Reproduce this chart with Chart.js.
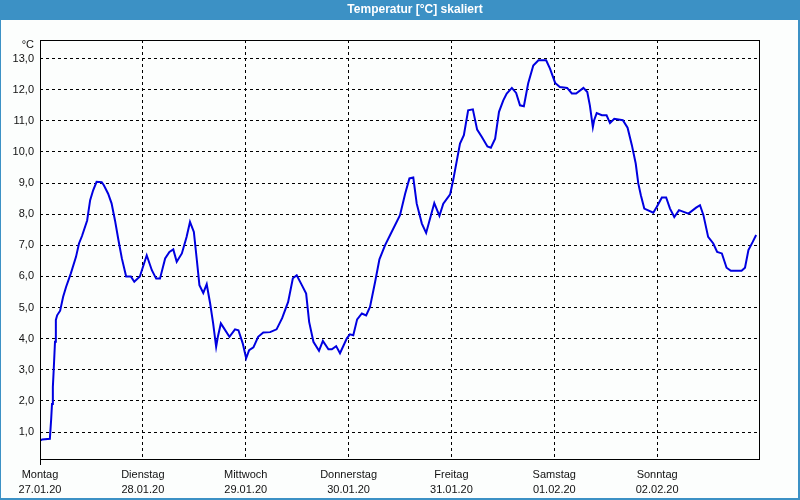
<!DOCTYPE html>
<html>
<head>
<meta charset="utf-8">
<script src="https://cdn.jsdelivr.net/npm/chart.js@4.4.1/dist/chart.umd.min.js"></script>
<style>
  html, body { margin: 0; padding: 0; background: #fcfefd; }
  #wrap { width: 800px; height: 500px; position: relative; }
</style>
</head>
<body>
<div id="wrap"><canvas id="tempChart" width="800" height="500"></canvas></div>
<script>
// Stunden seit Montag 00:00 und gemessene Temperatur
var hours = [0, 0.5, 2.3, 2.6, 2.8, 3.0, 3.2, 3.5, 3.7, 4.0, 4.7, 5.4, 6.1, 7.2, 8.4, 9.1, 9.8, 11.0,
  11.7, 12.4, 13.2, 14.4, 14.9, 15.9, 16.7, 17.5, 18.3, 19.1, 20.1, 21.2, 22.0, 23.3, 24.9, 26.1,
  27.1, 28.0, 29.2, 30.2, 31.1, 31.9, 33.1, 34.2, 35.0, 35.9, 36.6, 37.2, 38.1, 38.9, 39.7, 40.4,
  41.1, 41.5, 42.2, 44.2, 45.5, 46.3, 47.3, 48.1, 48.8, 49.8, 50.9, 52.1, 53.7, 55.2, 56.5, 57.9,
  59.0, 59.9, 61.1, 62.1, 62.8, 63.8, 65.1, 66.0, 67.3, 68.1, 69.1, 70.0, 71.6, 72.3, 73.1, 74.0,
  75.1, 76.1, 77.0, 78.2, 79.2, 80.5, 81.7, 84.0, 85.2, 86.2, 87.1, 87.9, 89.1, 90.1, 92.0, 93.2,
  94.1, 95.7, 96.4, 98.0, 98.9, 99.9, 101.0, 102.0, 103.1, 104.4, 105.2, 106.2, 107.1, 108.1,
  108.9, 110.1, 111.1, 112.0, 112.9, 113.9, 115.1, 116.3, 118.1, 119.0, 120.2, 121.3, 123.0,
  124.1, 125.1, 126.8, 127.7, 128.3, 129.0, 129.3, 129.9, 131.1, 132.2, 133.0, 134.0, 136.0,
  137.1, 138.1, 139.0, 139.6, 140.2, 141.0, 143.1, 143.9, 145.1, 146.1, 147.0, 148.0, 149.1,
  151.3, 153.1, 154.0, 154.8, 155.9, 157.1, 158.0, 159.1, 160.2, 161.2, 163.7, 164.5, 165.3,
  166.3, 167.1];
var temps = [0.72, 0.76, 0.78, 1.4, 1.9, 2.45, 3.0, 3.9, 4.6, 4.75, 4.9, 5.35, 5.67, 6.1, 6.63, 7.06, 7.3, 7.8,
  8.45, 8.77, 9.04, 9.03, 8.93, 8.66, 8.35, 7.8, 7.17, 6.58, 6.0, 6.0, 5.83, 6.0, 6.68, 6.2,
  5.93, 5.93, 6.58, 6.79, 6.87, 6.47, 6.74, 7.27, 7.75, 7.43, 6.52, 5.72, 5.47, 5.75, 5.13, 4.49,
  3.74, 4.06, 4.49, 4.06, 4.30, 4.27, 3.85, 3.37, 3.63, 3.72, 4.06, 4.20, 4.21, 4.30, 4.66, 5.18,
  5.94, 6.04, 5.72, 5.45, 4.54, 3.90, 3.61, 3.93, 3.66, 3.66, 3.76, 3.53, 4.01, 4.14, 4.11, 4.62,
  4.81, 4.75, 5.02, 5.83, 6.55, 7.0, 7.33, 7.97, 8.66, 9.15, 9.18, 8.34, 7.7, 7.4, 8.36, 7.95,
  8.34, 8.64, 9.09, 10.27, 10.54, 11.34, 11.37, 10.72, 10.48, 10.18, 10.14, 10.43, 11.29, 11.66,
  11.88, 12.06, 11.90, 11.50, 11.47, 12.2, 12.78, 12.95, 12.95, 12.68, 12.22, 12.09, 12.06,
  11.88, 11.88, 12.06, 11.93, 11.50, 10.8, 11.02, 11.25, 11.18, 11.18, 10.93, 11.07, 11.02,
  10.78, 10.22, 9.63, 8.99, 8.61, 8.18, 8.05, 8.23, 8.54, 8.54, 8.18, 7.91, 8.13,
  8.02, 8.21, 8.29, 7.97, 7.27, 7.06, 6.79, 6.74, 6.28, 6.18, 6.18, 6.28, 6.85,
  7.11, 7.33];

var dayNames = ['Montag', 'Dienstag', 'Mittwoch', 'Donnerstag', 'Freitag', 'Samstag', 'Sonntag'];
var dayDates = ['27.01.20', '28.01.20', '29.01.20', '30.01.20', '31.01.20', '01.02.20', '02.02.20'];
var yTicks = [1, 2, 3, 4, 5, 6, 7, 8, 9, 10, 11, 12, 13];

var points = hours.map(function(h, i) { return { x: h, y: temps[i] }; });

// Rahmen, Titelleiste und Einheit zeichnen
var framePlugin = {
    id: 'frame',
    beforeDraw: function(chart) {
        var ctx = chart.ctx;
        ctx.save();
        ctx.fillStyle = '#fcfefd';
        ctx.fillRect(0, 0, 800, 500);
        ctx.fillStyle = '#3c91c5';
        ctx.fillRect(0, 0, 800, 20);
        ctx.fillRect(0, 0, 1, 500);
        ctx.fillRect(798, 0, 2, 500);
        ctx.fillRect(0, 498, 800, 2);
        ctx.fillStyle = '#ffffff';
        ctx.font = 'bold 12px "Liberation Sans", Arial, sans-serif';
        ctx.textAlign = 'center';
        ctx.textBaseline = 'middle';
        ctx.fillText('Temperatur [\u00B0C] skaliert', 415, 10);
        ctx.restore();
    },
    afterDraw: function(chart) {
        var ctx = chart.ctx;
        var a = chart.chartArea;
        ctx.save();
        ctx.strokeStyle = '#000000';
        ctx.lineWidth = 1;
        ctx.strokeRect(Math.round(a.left) + 0.5, Math.round(a.top) + 0.5,
            Math.round(a.right - a.left) - 1, Math.round(a.bottom - a.top) - 1);
        ctx.beginPath();
        ctx.moveTo(Math.round(a.left) + 0.5, a.bottom);
        ctx.lineTo(Math.round(a.left) + 0.5, a.bottom + 5);
        ctx.stroke();
        ctx.fillStyle = '#111111';
        ctx.font = '11px "Liberation Sans", Arial, sans-serif';
        ctx.textAlign = 'right';
        ctx.textBaseline = 'middle';
        ctx.fillText('\u00B0C', 34, 45);
        ctx.restore();
    }
};

var ctx = document.getElementById('tempChart').getContext('2d');
new Chart(ctx, {
    type: 'line',
    data: {
        datasets: [{
            data: points,
            borderColor: '#0000e0',
            borderWidth: 2,
            pointRadius: 0,
            tension: 0,
            fill: false
        }]
    },
    options: {
        responsive: false,
        animation: false,
        events: [],
        layout: { padding: { top: 40, right: 40, left: 0, bottom: 0 } },
        plugins: {
            legend: { display: false },
            tooltip: { enabled: false },
            title: { display: false }
        },
        scales: {
            x: {
                type: 'linear',
                min: 0,
                max: 168,
                afterBuildTicks: function(scale) {
                    scale.ticks = dayNames.map(function(n, i) { return { value: i * 24 }; });
                },
                afterFit: function(scale) { scale.height = 40; },
                grid: { color: '#000000', lineWidth: 1, drawTicks: false },
                border: { display: false, dash: [3, 3] },
                ticks: {
                    color: '#111111',
                    padding: 8,
                    maxRotation: 0,
                    autoSkip: false,
                    font: { family: '"Liberation Sans", Arial, sans-serif', size: 11, lineHeight: 1.35 },
                    callback: function(v) {
                        var i = Math.round(v / 24);
                        return [dayNames[i], dayDates[i]];
                    }
                }
            },
            y: {
                type: 'linear',
                min: 0.1,
                max: 13.6,
                afterBuildTicks: function(scale) {
                    scale.ticks = yTicks.map(function(v) { return { value: v }; });
                },
                afterFit: function(scale) { scale.width = 40; },
                grid: { color: '#000000', lineWidth: 1, drawTicks: false },
                border: { display: false, dash: [3, 3] },
                ticks: {
                    color: '#111111',
                    padding: 6,
                    font: { family: '"Liberation Sans", Arial, sans-serif', size: 11 },
                    callback: function(v) { return v.toFixed(1).replace('.', ','); }
                }
            }
        }
    },
    plugins: [framePlugin]
});
</script>
</body>
</html>
